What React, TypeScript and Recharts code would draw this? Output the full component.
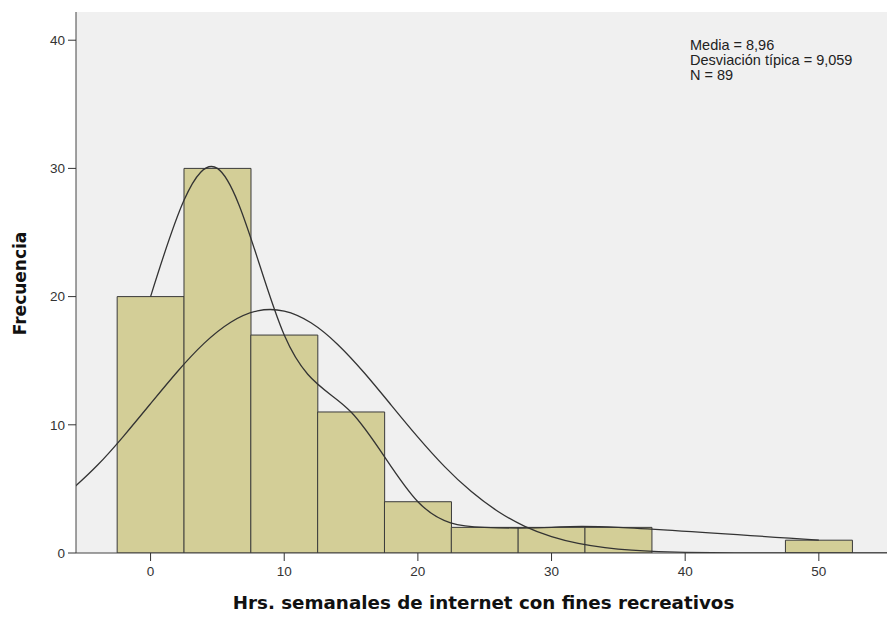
import React from 'react';
import { ComposedChart, Bar, Line, XAxis, YAxis, CartesianGrid } from 'recharts';

// Histogram bins (width 5 h), centred on these values
const binCenters = [0, 5, 10, 15, 20, 25, 30, 35, 40, 45, 50];
const frequencies = [20, 30, 17, 11, 4, 2, 2, 2, 0, 0, 1];

// Fitted normal curve (media 8,96; desviación típica 9,059), in frequency units
const normalX = [-6, -4, -2, 0, 2, 4, 6, 8, 10, 12, 14, 16, 18, 20, 22, 24, 26, 28, 30, 32, 34, 36, 38, 40, 42, 44, 46, 48, 50, 52, 54, 56];
const normalY = [4.85, 6.82, 9.14, 11.65, 14.14, 16.35, 18.0, 18.89, 18.87, 17.96, 16.27, 14.04, 11.54, 9.04, 6.74, 4.79, 3.24, 2.08, 1.28, 0.75, 0.42, 0.22, 0.11, 0.05, 0.02, 0.01, 0, 0, 0, 0, 0, 0];

const xTicks = [0, 10, 20, 30, 40, 50];
const yTicks = [0, 10, 20, 30, 40];

const statLines = ['Media = 8,96', 'Desviación típica = 9,059', 'N = 89'];

const xTitle = 'Hrs. semanales de internet con fines recreativos';
const yTitle = 'Frecuencia';

const histData = binCenters.map((x, i) => ({
  x,
  freq: frequencies[i],
  smooth: frequencies[i] > 0 ? frequencies[i] : null,
}));

const normalData = normalX.map((x, i) => ({ x, density: normalY[i] }));

const X_DOMAIN: [number, number] = [-5.58, 55.1];

const tickStyle = { fontFamily: '"Liberation Sans", Arial, sans-serif', fontSize: 13.5, fill: '#333' };
const titleFont = '"DejaVu Sans", Verdana, sans-serif';

const XTitle = (props: any) => {
  const vb = props.viewBox || {};
  return (
    <text
      x={vb.x + vb.width / 2 + 2}
      y={vb.y + 56}
      textAnchor="middle"
      fontFamily={titleFont}
      fontWeight="bold"
      fontSize={18.3}
      fill="#111"
    >
      {xTitle}
    </text>
  );
};

const YTitle = (props: any) => {
  const vb = props.viewBox || {};
  const cx = vb.x + 20;
  const cy = vb.y + vb.height / 2 + 1;
  return (
    <text
      x={cx}
      y={cy}
      transform={`rotate(-90, ${cx}, ${cy})`}
      textAnchor="middle"
      dominantBaseline="central"
      fontFamily={titleFont}
      fontWeight="bold"
      fontSize={17}
      fill="#111"
    >
      {yTitle}
    </text>
  );
};

export default function App() {
  return (
    <div style={{ position: 'absolute', left: 0, top: 0, width: 887, height: 617, background: '#fff' }}>
      <ComposedChart
        width={887}
        height={617}
        data={histData}
        margin={{ top: 12, right: 0, bottom: 0, left: 0 }}
        barCategoryGap={0}
        barGap={0}
      >
        <CartesianGrid horizontal={false} vertical={false} fill="#F0F0F0" />
        <XAxis
          xAxisId="bins"
          type="number"
          dataKey="x"
          domain={X_DOMAIN}
          allowDataOverflow
          ticks={xTicks}
          interval={0}
          height={64}
          tickSize={8}
          tickMargin={5}
          axisLine={{ stroke: '#444' }}
          tickLine={{ stroke: '#333' }}
          tick={tickStyle}
          label={<XTitle />}
        />
        <XAxis
          xAxisId="curve"
          type="number"
          dataKey="x"
          domain={X_DOMAIN}
          allowDataOverflow
          orientation="top"
          height={0}
          tick={false}
          tickLine={false}
          axisLine={{ stroke: '#777', strokeWidth: 1.5 }}
        />
        <YAxis
          type="number"
          domain={[0, 42.2]}
          allowDataOverflow
          ticks={yTicks}
          interval={0}
          width={76}
          tickSize={8}
          tickMargin={3}
          axisLine={{ stroke: '#444' }}
          tickLine={{ stroke: '#333' }}
          tick={tickStyle}
          label={<YTitle />}
        />
        <Bar
          xAxisId="bins"
          dataKey="freq"
          fill="#D3CE97"
          stroke="#3a3a3a"
          strokeWidth={1}
          isAnimationActive={false}
        />
        <Line
          xAxisId="bins"
          dataKey="smooth"
          type="natural"
          connectNulls
          dot={false}
          activeDot={false}
          stroke="#333"
          strokeWidth={1.3}
          isAnimationActive={false}
        />
        <Line
          xAxisId="curve"
          data={normalData}
          dataKey="density"
          type="natural"
          dot={false}
          activeDot={false}
          stroke="#333"
          strokeWidth={1.3}
          isAnimationActive={false}
        />
      </ComposedChart>
      <div
        style={{
          position: 'absolute',
          left: 690,
          top: 38,
          fontFamily: '"Liberation Sans", Arial, sans-serif',
          fontSize: 14.5,
          lineHeight: '15px',
          color: '#222',
          whiteSpace: 'nowrap',
        }}
      >
        {statLines.map((s) => (
          <div key={s}>{s}</div>
        ))}
      </div>
    </div>
  );
}
